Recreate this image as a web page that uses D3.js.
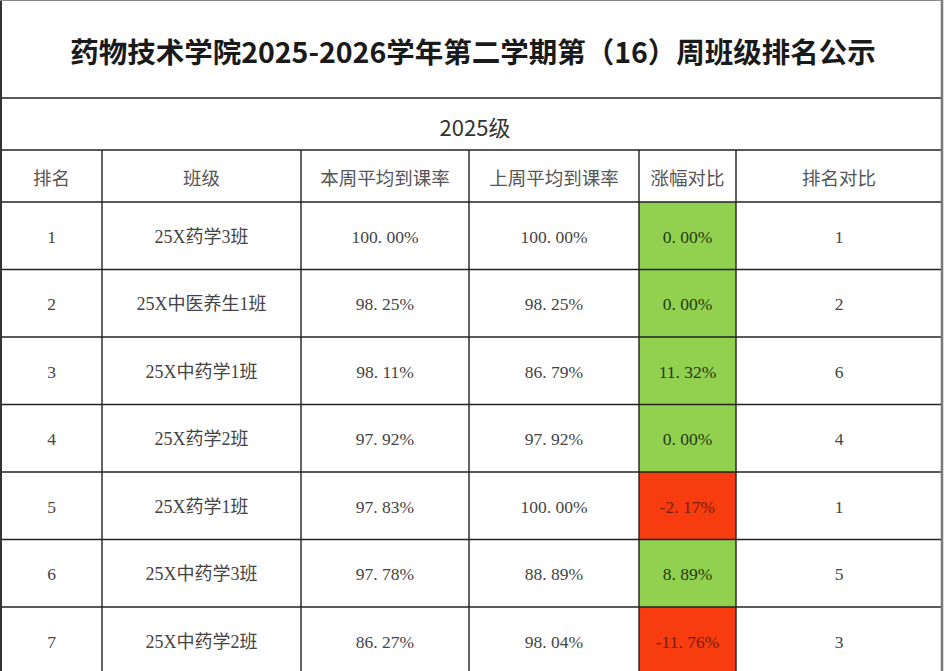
<!DOCTYPE html>
<html><head><meta charset="utf-8">
<script src="https://cdn.jsdelivr.net/npm/d3@7/dist/d3.min.js"></script>
<style>html,body{margin:0;padding:0;background:#fff;overflow:hidden}</style>
</head><body>
<script>
const title = "药物技术学院2025-2026学年第二学期第（16）周班级排名公示";
const subtitle = "2025级";
const headers = ["排名","班级","本周平均到课率","上周平均到课率","涨幅对比","排名对比"];
const ranks = [1,2,3,4,5,6,7];
const classes = ["25X药学3班","25X中医养生1班","25X中药学1班","25X药学2班","25X药学1班","25X中药学3班","25X中药学2班"];
const thisWeek = [100.00,98.25,98.11,97.92,97.83,97.78,86.27];
const lastWeek = [100.00,98.25,86.79,97.92,100.00,88.89,98.04];
const change = [0.00,0.00,11.32,0.00,-2.17,8.89,-11.76];
const lastRank = [1,2,6,4,1,5,3];

const W = 945, H = 671;
const colEdges = [1,102,301,469,639,736,942];
const svg = d3.select("body").append("svg").attr("width",W).attr("height",H);

const cjk = "'Noto Sans CJK SC','Noto Sans',sans-serif";
const num = "'Liberation Serif','Noto Sans CJK SC',serif";

const y = d3.scaleBand().domain(ranks).range([202, 202+7*67.5]);
const fmt = v => v.toFixed(2).replace(".", ". ") + "%";

const rows = ranks.map((r,i)=>({r, cls:classes[i], tw:thisWeek[i], lw:lastWeek[i], ch:change[i], lr:lastRank[i]}));

// change cell fills
svg.selectAll("rect.ch").data(rows).join("rect")
  .attr("x",colEdges[4]).attr("width",colEdges[5]-colEdges[4])
  .attr("y",d=>y(d.r)).attr("height",y.bandwidth())
  .attr("fill",d=>d.ch<0?"#f73c10":"#92d050");

// title
svg.append("text").attr("x",473).attr("y",50).attr("text-anchor","middle").attr("dominant-baseline","central")
  .attr("font-family",cjk).attr("font-weight","bold").attr("font-size",28.5).attr("fill","#1a1a1a").text(title);
svg.append("text").attr("x",475).attr("y",126).attr("text-anchor","middle").attr("dominant-baseline","central")
  .attr("font-family",cjk).attr("font-size",22).attr("fill","#333").text(subtitle);

const cx = i => (colEdges[i]+colEdges[i+1])/2;
svg.selectAll("text.h").data(headers).join("text")
  .attr("x",(d,i)=>cx(i)).attr("y",177).attr("text-anchor","middle").attr("dominant-baseline","central")
  .attr("font-family",cjk).attr("font-size",18.5).attr("fill","#555").text(d=>d);

const cellTexts = rows.flatMap(d=>[
  {c:0,r:d.r,t:String(d.r)},
  {c:1,r:d.r,t:d.cls},
  {c:2,r:d.r,t:fmt(d.tw)},
  {c:3,r:d.r,t:fmt(d.lw)},
  {c:4,r:d.r,t:fmt(d.ch),neg:d.ch<0},
  {c:5,r:d.r,t:String(d.lr)}
]);
svg.selectAll("text.c").data(cellTexts).join("text")
  .attr("x",d=>cx(d.c)).attr("y",d=>y(d.r)+y.bandwidth()/2+1)
  .attr("text-anchor","middle").attr("dominant-baseline","central")
  .attr("font-family",num).attr("font-size",d=>d.c===1?18:17.5)
  .attr("fill",d=>d.c===4?(d.neg?"#7a1a05":"#1f3a10"):"#444")
  .text(d=>d.t);

// grid lines
const lineCol = "#222";
const hLines = [98,150,...ranks.map(r=>y(r)), y(7)+y.bandwidth()];
svg.selectAll("line.h").data(hLines).join("line")
  .attr("x1",0).attr("x2",943).attr("y1",d=>d).attr("y2",d=>d)
  .attr("stroke",lineCol).attr("stroke-width",1.6);
svg.selectAll("line.v").data(colEdges.slice(1,-1)).join("line")
  .attr("x1",d=>d).attr("x2",d=>d).attr("y1",150).attr("y2",H)
  .attr("stroke",lineCol).attr("stroke-width",1.4);
svg.append("line").attr("x1",1).attr("x2",1).attr("y1",0).attr("y2",H).attr("stroke","#333").attr("stroke-width",2);
svg.append("line").attr("x1",942).attr("x2",942).attr("y1",0).attr("y2",H).attr("stroke","#777").attr("stroke-width",2.5);
svg.append("line").attr("x1",0).attr("x2",943).attr("y1",0.5).attr("y2",0.5).attr("stroke","#888").attr("stroke-width",1);
</script>
</body></html>
